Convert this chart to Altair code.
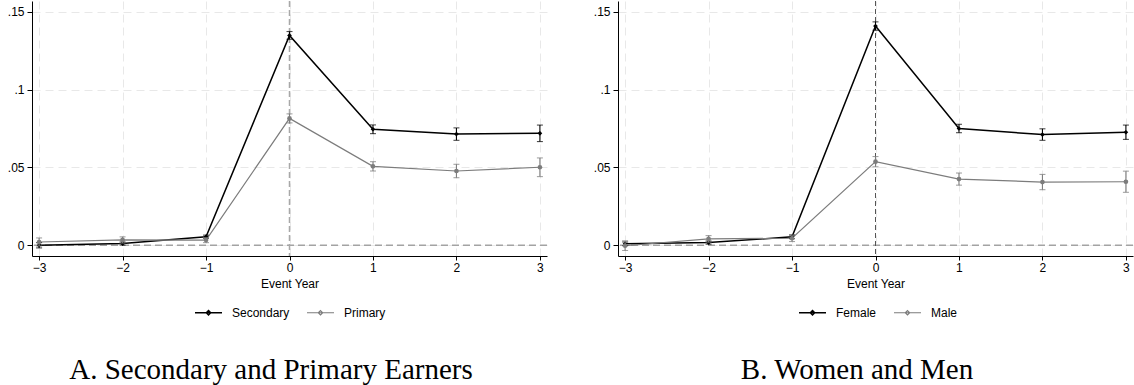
import altair as alt
import pandas as pd

event_years = [-3, -2, -1, 0, 1, 2, 3]

# Panel A: secondary vs primary earners (coefficient and 95% CI half-width)
secondary_coef = [0.0000, 0.0011, 0.0055, 0.1348, 0.0745, 0.0714, 0.0719]
secondary_ci = [0.0017, 0.0010, 0.0010, 0.0025, 0.0028, 0.0040, 0.0053]
primary_coef = [0.0021, 0.0034, 0.0033, 0.0815, 0.0507, 0.0477, 0.0501]
primary_ci = [0.0026, 0.0020, 0.0016, 0.0029, 0.0030, 0.0043, 0.0060]

# Panel B: women vs men
female_coef = [0.0009, 0.0017, 0.0054, 0.1408, 0.0750, 0.0711, 0.0726]
female_ci = [0.0012, 0.0010, 0.0012, 0.0027, 0.0027, 0.0037, 0.0046]
male_coef = [-0.0003, 0.0041, 0.0045, 0.0537, 0.0425, 0.0406, 0.0408]
male_ci = [0.0031, 0.0021, 0.0021, 0.0033, 0.0039, 0.0049, 0.0068]

y_ticks = [0, 0.05, 0.1, 0.15]

SANS = "Liberation Sans"
SERIF = "Liberation Serif"
BLACK = "#000000"
GRAY = "#7c7c7c"
W, H = 515, 255
X_DOMAIN = [-3.085, 3.085]
Y_DOMAIN = [-0.0069, 0.1569]


def series_frame(name, coef, ci):
    return pd.DataFrame({
        "year": event_years,
        "coef": coef,
        "lo": [c - h for c, h in zip(coef, ci)],
        "hi": [c + h for c, h in zip(coef, ci)],
        "series": name,
    })


def panel(names, coefs, cis, subtitle, legend_x, vline_color, vline_width, vline_dash):
    df = pd.concat([series_frame(n, c, e) for n, c, e in zip(names, coefs, cis)],
                   ignore_index=True)
    base = alt.Chart(df)
    ref = alt.Chart(pd.DataFrame({"v": [0]}))

    x = alt.X("year:Q", scale=alt.Scale(domain=X_DOMAIN, nice=False, zero=False),
              axis=alt.Axis(values=event_years, format="d", title="Event Year"))
    y = alt.Y("coef:Q", scale=alt.Scale(domain=Y_DOMAIN, nice=False, zero=False),
              axis=alt.Axis(values=y_ticks, title=None,
                            labelExpr="datum.value == 0 ? '0' : slice(format(datum.value, '.2~f'), 1)"))
    # legend entries: a short line with a small marker in its middle
    color = alt.Color("series:N", scale=alt.Scale(domain=names, range=[BLACK, GRAY]),
                      legend=alt.Legend(orient="none", legendX=legend_x, legendY=297,
                                        direction="horizontal", title=None,
                                        symbolType="M-1,0L1,0M0,-0.16L0.16,0L0,0.16L-0.16,0Z",
                                        symbolSize=729, symbolStrokeWidth=1.2,
                                        labelOffset=9, columnPadding=14,
                                        labelFont=SANS, labelFontSize=12, labelColor="#000000"))
    width_enc = alt.StrokeWidth("series:N", scale=alt.Scale(domain=names, range=[1.5, 1.2]),
                                legend=None)

    zero_line = ref.mark_rule(color="#a3a3a3", strokeWidth=1.6, strokeDash=[7, 4]).encode(
        y=alt.datum(0))
    event_line = ref.mark_rule(color=vline_color, strokeWidth=vline_width,
                               strokeDash=vline_dash).encode(x=alt.datum(0))

    lines = base.mark_line().encode(x=x, y=y, color=color, strokeWidth=width_enc)

    layers = [zero_line, event_line, lines]
    for name, col, shape in zip(names, [BLACK, GRAY], ["diamond", "circle"]):
        sub = base.transform_filter(alt.datum.series == name)
        layers.append(sub.mark_rule(color=col, strokeWidth=1.1).encode(
            x="year:Q", y="lo:Q", y2="hi:Q"))
        layers.append(sub.mark_tick(color=col, orient="horizontal", size=6, thickness=1.1).encode(
            x="year:Q", y="lo:Q"))
        layers.append(sub.mark_tick(color=col, orient="horizontal", size=6, thickness=1.1).encode(
            x="year:Q", y="hi:Q"))
        layers.append(sub.mark_point(color=col, filled=True, shape=shape, size=22,
                                     opacity=1).encode(x="year:Q", y="coef:Q"))

    label = alt.Chart(pd.DataFrame({"t": [subtitle]})).mark_text(
        font=SERIF, fontSize=29, color="#000000", align="center", baseline="middle"
    ).encode(text="t:N", x=alt.value(239), y=alt.value(369))
    layers.append(label)

    return alt.layer(*layers).properties(width=W, height=H)


panel_a = panel(["Secondary", "Primary"], [secondary_coef, primary_coef],
                [secondary_ci, primary_ci], "A. Secondary and Primary Earners", 162,
                "#a8a8a8", 1.5, [6, 3])
panel_b = panel(["Female", "Male"], [female_coef, male_coef],
                [female_ci, male_ci], "B. Women and Men", 180,
                "#555555", 1.0, [5, 3])

chart = alt.hconcat(panel_a, panel_b, spacing=71, bounds="flush").resolve_scale(
    color="independent", strokeWidth="independent"
).properties(
    padding={"left": 7, "top": 0, "right": 0, "bottom": 0},
    background="white",
).configure_view(stroke=None).configure_axis(
    labelFont=SANS, labelFontSize=12, labelColor="#000000",
    titleFont=SANS, titleFontSize=12, titleFontWeight="normal", titleColor="#000000",
    domainColor="#000000", domainWidth=1, tickColor="#000000", tickSize=5, tickWidth=1,
    grid=True, gridColor="#e8e8e8", gridDash=[8, 5], gridWidth=1,
).configure_axisX(tickSize=4, labelPadding=2, titlePadding=5).configure_axisY(labelPadding=3)

chart.save("out.html", embed_options={"renderer": "svg", "actions": False})
